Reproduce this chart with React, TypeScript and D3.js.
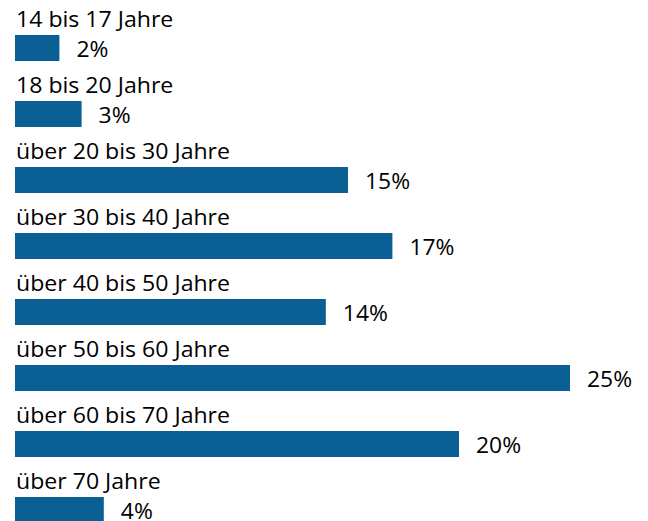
import React from "react";
import * as d3 from "d3";

const categories = [
  "14 bis 17 Jahre",
  "18 bis 20 Jahre",
  "über 20 bis 30 Jahre",
  "über 30 bis 40 Jahre",
  "über 40 bis 50 Jahre",
  "über 50 bis 60 Jahre",
  "über 60 bis 70 Jahre",
  "über 70 Jahre",
];
const values = [2, 3, 15, 17, 14, 25, 20, 4];
const valueLabels = ["2%", "3%", "15%", "17%", "14%", "25%", "20%", "4%"];

const W = 648;
const H = 521;
const BAR_H = 26;
const BAR_COLOR = "#0a6094";
const FONT = "'Open Sans', 'Noto Sans', sans-serif";

export default function App() {
  const x = d3.scaleLinear().domain([0, 25]).range([15, 570]);
  const y = d3.scalePoint<string>().domain(categories).range([35, 497]);

  return (
    <svg
      width={W}
      height={H}
      style={{ position: "absolute", left: 0, top: 0, background: "#fff" }}
    >
      {categories.map((c, i) => {
        const top = y(c)!;
        const x1 = x(values[i]);
        return (
          <g key={c}>
            <text
              x={0}
              y={0}
              fontFamily={FONT}
              fontSize={21}
              fill="#000"
              transform={`translate(16,${top - 8}) scale(1.1,1)`}
            >
              {c}
            </text>
            <rect x={x(0)} y={top} width={x1 - x(0)} height={BAR_H} fill={BAR_COLOR} />
            <text
              x={0}
              y={0}
              fontFamily={FONT}
              fontSize={22}
              fill="#000"
              transform={`translate(${x1 + 17},${top + BAR_H - 4}) scale(1.04,1)`}
            >
              {valueLabels[i]}
            </text>
          </g>
        );
      })}
    </svg>
  );
}
